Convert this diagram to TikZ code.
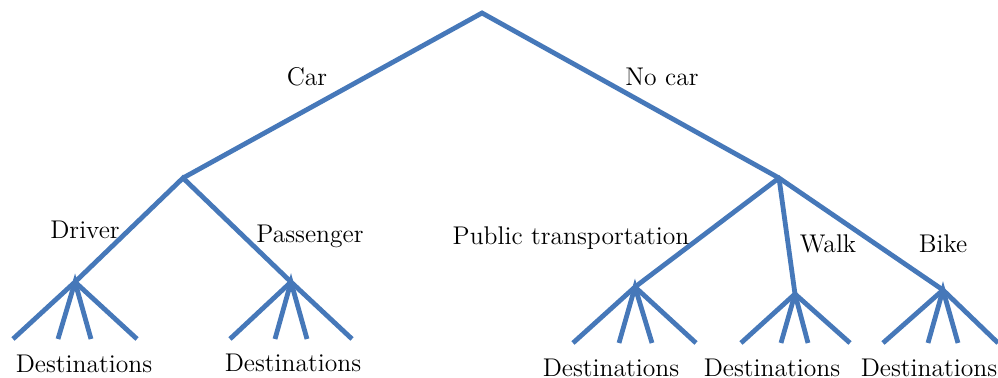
\documentclass[tikz,border=0pt]{standalone}
\usepackage{fontspec}
\definecolor{treeblue}{RGB}{70,120,185}
\tikzset{
  branch/.style={draw=treeblue, line width=2.4pt, line join=miter},
  lbl/.style={inner sep=0pt, font=\fontsize{12.8}{15}\selectfont},
}
\begin{document}
\begin{tikzpicture}[x=0.5pt, y=-0.5pt]
\useasboundingbox (0,0) rectangle (998,378);
% decision points
\coordinate (root) at (482,13);
\coordinate (car) at (183,178);
\coordinate (nocar) at (779,178);
\coordinate (drv) at (75,282);
\coordinate (pas) at (291,282);
\coordinate (pt) at (635,287);
\coordinate (walk) at (795,294);
\coordinate (bike) at (943,290);
% leaf ends
\coordinate (d1) at (13,339);  \coordinate (d2) at (58,339);  \coordinate (d3) at (91,339);  \coordinate (d4) at (137,339);
\coordinate (p1) at (230,339); \coordinate (p2) at (275,339); \coordinate (p3) at (307,339); \coordinate (p4) at (352,339);
\coordinate (t1) at (573,343); \coordinate (t2) at (619,343); \coordinate (t3) at (652,343); \coordinate (t4) at (696,343);
\coordinate (w1) at (741,343); \coordinate (w2) at (781,343); \coordinate (w3) at (808,343); \coordinate (w4) at (850,343);
\coordinate (b1) at (883,343); \coordinate (b2) at (928,343); \coordinate (b3) at (958,343); \coordinate (b4) at (998,343);

% upper branches
\path[branch] (car) -- (root) -- (nocar);
\path[branch] (drv) -- (car) -- (pas);
\path[branch] (pt) -- (nocar) -- (bike);
\path[branch] (nocar) -- (walk);
% destination fans
\foreach \n/\a in {drv/d, pas/p, pt/t, walk/w, bike/b}{
  \path[branch] (\a1) -- (\n) -- (\a4);
  \path[branch] (\a2) -- (\n) -- (\a3);
}

% branch labels
\node[lbl] (lcar) at (307,77) {Car};
\node[lbl] (lnocar) at (662,77) {No car};
\node[lbl] (ldrv) at (85,230) {Driver};
\node[lbl] (lpas) at (310,236) {Passenger};
\node[lbl] (lpt) at (571,238) {Public transportation};
\node[lbl] (lwalk) at (828,244) {Walk};
\node[lbl] (lbike) at (943,244) {Bike};
% leaf labels
\node[lbl] (ld) at (84,364) {Destinations};
\node[lbl] (lp) at (293,363) {Destinations};
\node[lbl] (lt) at (611,367.5) {Destinations};
\node[lbl] (lw) at (772,367.5) {Destinations};
\node[lbl] (lb) at (929,367.5) {Destinations};
\end{tikzpicture}
\end{document}
